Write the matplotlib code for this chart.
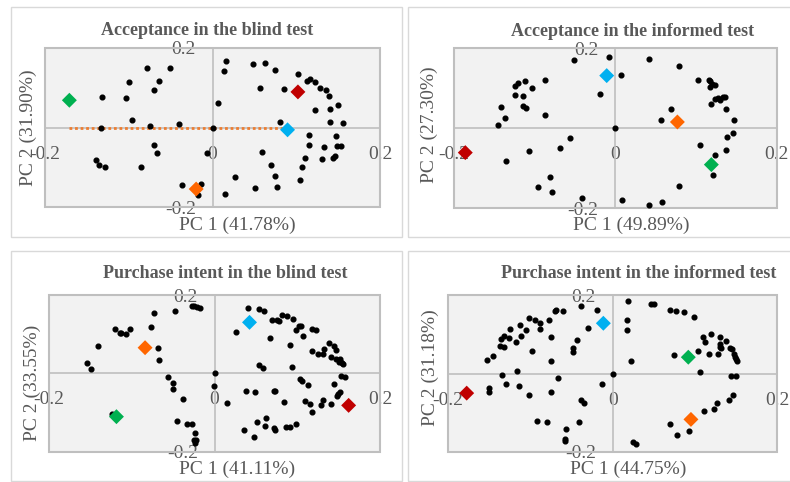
import matplotlib
matplotlib.use("Agg")
import matplotlib.pyplot as plt
from matplotlib.patches import Rectangle

plt.rcParams["font.family"] = ["Liberation Serif", "DejaVu Serif"]

TEXT = "#595959"
GRID = "#bfbfbf"

# sample scores: diamonds in the order green, red, blue, orange
sample_colors = ["#00b050", "#c00000", "#00b0f0", "#ff6600"]

# --- Acceptance, blind test
acc_blind_x = [0.0167, 0.0143, 0.0478, 0.0625, 0.0745, 0.102, 0.1127, 0.1159, 0.1223, 0.1283,
               0.1355, 0.1386, 0.0562, 0.0853, 0.0064, 0.1502, 0.1227, 0.1406, 0.0801, 0.1398,
               0.1558, 0.0, 0.1147, 0.1478, 0.1147, 0.1335, 0.1486, 0.153, 0.0594, 0.1462,
               0.1438, 0.1311, 0.11, 0.0693, 0.1068, 0.0267, 0.0749, 0.1048, 0.0502, 0.0773,
               0.0151, -0.0777, -0.0502, -0.0633, -0.0992, -0.0697, -0.1315, -0.1028, -0.0956,
               -0.0749, -0.0402, -0.1327, -0.0701, -0.0665, -0.139, -0.1355, -0.1283, -0.0853,
               -0.0367, -0.0143, -0.0171, -0.0068]
acc_blind_y = [0.1675, 0.1417, 0.16, 0.1625, 0.1442, 0.1333, 0.1175, 0.1225, 0.1142, 0.0983,
               0.0933, 0.08, 0.0992, 0.0975, 0.0625, 0.0558, 0.045, 0.0467, 0.0133, 0.0133,
               0.0108, 0.0, -0.0192, -0.0217, -0.0442, -0.05, -0.0467, -0.0467, -0.0617, -0.0717,
               -0.0758, -0.0783, -0.0767, -0.0942, -0.1, -0.125, -0.1217, -0.1308, -0.1508, -0.15,
               -0.1658, 0.1483, 0.15, 0.1167, 0.1142, 0.0933, 0.0775, 0.075, 0.0183,
               0.005, 0.0092, -0.0017, -0.045, -0.0633, -0.0817, -0.0942, -0.1, -0.0983,
               -0.1442, -0.1425, -0.1692, -0.0633]
acc_blind_sx = [-0.1709, 0.102, 0.0896, -0.0195]
acc_blind_sy = [0.0683, 0.0892, -0.0058, -0.1542]

# --- Acceptance, informed test
acc_inf_x = [-0.0512, -0.0083, 0.0421, 0.0785, 0.007, -0.0872, -0.1124, -0.1207, -0.1248, -0.1029,
             -0.1248, -0.1149, -0.1421, -0.1149, -0.1112, -0.0868, -0.1364, -0.1459, -0.019, 0.1029,
             0.1157, 0.1174, 0.1198, 0.1169, 0.124, 0.124, 0.1273, 0.1302, 0.1335, 0.1364,
             0.1182, 0.1376, 0.0686, 0.0566, 0.1471, 0.0, -0.0562, -0.069, -0.1066, -0.136,
             0.138, 0.1463, 0.1045, 0.1376, 0.1236, 0.1207, 0.0793, -0.0806, -0.0963, -0.0781,
             -0.0417, 0.0083, 0.0413, 0.0583]
acc_inf_y = [0.1708, 0.1775, 0.1725, 0.1558, 0.1325, 0.1208, 0.1192, 0.1142, 0.105, 0.1,
             0.0842, 0.0808, 0.0525, 0.0567, 0.05, 0.0333, 0.025, 0.0092, 0.0858, 0.1217,
             0.12, 0.1183, 0.1108, 0.1033, 0.1083, 0.0742, 0.0758, 0.0708, 0.0775, 0.0783,
             0.0617, 0.0492, 0.0475, 0.0217, 0.02, 0.0, -0.0233, -0.0492, -0.0567, -0.0808,
             -0.0217, -0.0117, -0.0408, -0.0533, -0.0667, -0.1158, -0.145, -0.1225, -0.1475, -0.1592,
             -0.175, -0.1792, -0.1908, -0.1842]
acc_inf_sx = [0.119, -0.186, -0.0107, 0.0769]
acc_inf_sy = [-0.0908, -0.0608, 0.1317, 0.0158]

# --- Purchase intent, blind test
pur_blind_x = [-0.0274, -0.0246, -0.0206, -0.0173, -0.0472, -0.0734, -0.077, -0.1198, -0.1145, -0.1125,
               -0.1069, -0.102, -0.1407, -0.0681, -0.0673, -0.1544, -0.1492, -0.056, -0.0496, -0.0504,
               -0.0379, 0.0, -0.0004, 0.0149, -0.1238, -0.0448, -0.0335, -0.0274, -0.023, -0.0246,
               -0.0226, -0.023,
               0.0407, 0.0532, 0.0597, 0.0698, 0.0754, 0.0778, 0.0815, 0.0879, 0.0948, 0.0262,
               0.0665, 0.0984, 0.102, 0.104, 0.1065, 0.1177, 0.1226, 0.0907, 0.1181, 0.1254,
               0.1315, 0.1323, 0.1387, 0.144, 0.1468, 0.1403, 0.1468, 0.1512, 0.152, 0.1544,
               0.1504, 0.1556, 0.0532, 0.0589, 0.0935, 0.1028, 0.1052, 0.1129, 0.1444, 0.1528,
               0.1573, 0.1512, 0.1488, 0.148, 0.0375, 0.0484, 0.0714, 0.073, 0.0835, 0.1089,
               0.1153, 0.1181, 0.1282, 0.131, 0.1407, 0.0351, 0.0508, 0.0617, 0.0605, 0.0722,
               0.073, 0.0859, 0.0915, 0.098, 0.0476]
pur_blind_y = [0.1711, 0.1719, 0.1685, 0.1677, 0.16, 0.1532, 0.1183, 0.1132, 0.103, 0.1021,
               0.1004, 0.1132, 0.0698, 0.0655, 0.0349, 0.0264, 0.0102, -0.0094, -0.0247, -0.04,
               -0.0647, 0.0, -0.0332, -0.0757, -0.1038, -0.1209, -0.1285, -0.1285, -0.1515, -0.1694,
               -0.1702, -0.1779,
               0.1668, 0.1643, 0.16, 0.1362, 0.1353, 0.1328, 0.1489, 0.1455, 0.1379, 0.1064,
               0.0902, 0.1115, 0.12, 0.1217, 0.0962, 0.1132, 0.1098, 0.0732, 0.0562, 0.0485,
               0.0485, 0.0621, 0.0766, 0.0689, 0.0596, 0.0417, 0.0366, 0.0374, 0.0315, 0.0264,
               0.0281, 0.0247, 0.0213, 0.0128, 0.0162, -0.0145, -0.0204, -0.0306, -0.0264, -0.0077,
               -0.0094, -0.0485, -0.0528, -0.0587, -0.046, -0.0485, -0.0443, -0.0451, -0.0723, -0.0706,
               -0.0791, -0.0996, -0.0817, -0.0681, -0.0783, -0.1455, -0.1243, -0.1149, -0.1336, -0.1396,
               -0.1455, -0.1379, -0.137, -0.1302, -0.1626]
pur_blind_sx = [-0.1185, 0.1621, 0.0423, -0.0839]
pur_blind_sy = [-0.1106, -0.0817, 0.1302, 0.0655]

# --- Purchase intent, informed test
pur_inf_x = [-0.0704, -0.0688, -0.0599, -0.0381, -0.019, -0.0777, -0.1012, -0.0947, -0.0883, -0.0883,
             -0.1121, -0.1049, -0.1243, -0.1316, -0.136, -0.1259, -0.1117, -0.1178, -0.1364, -0.1324,
             -0.098, -0.0745, -0.0482, -0.0478, -0.0433, -0.0296, -0.1526, -0.1457, -0.0753, -0.1348,
             -0.1166, -0.0664, -0.1502, -0.1502, -0.13, -0.1138, -0.102, -0.0753, -0.013, -0.0389,
             -0.0348, -0.0923, -0.0798, -0.0571, -0.0405, -0.0583, -0.0575,
             0.0182, 0.0462, 0.0498, 0.0692, 0.0769, 0.0862, 0.0988, 0.017, 0.0178, 0.0223,
             0.0, 0.0745, 0.1032, 0.117, 0.1283, 0.1101, 0.1121, 0.1194, 0.1304, 0.1308,
             0.1308, 0.1316, 0.1372, 0.1425, 0.1445, 0.147, 0.1486, 0.1494, 0.1514, 0.1437,
             0.1494, 0.1061, 0.1457, 0.1409, 0.1267, 0.1231, 0.1113, 0.0692, 0.0777, 0.0923,
             0.0251, 0.0279]
pur_inf_y = [0.1609, 0.1634, 0.16, 0.1719, 0.1617, 0.137, 0.143, 0.1362, 0.1285, 0.1149,
             0.1243, 0.1106, 0.1132, 0.097, 0.0877, 0.0919, 0.0962, 0.08, 0.0715, 0.0689,
             0.0587, 0.0936, 0.0647, 0.0545, 0.0868, 0.1157, 0.0357, 0.046, 0.0315, -0.0026,
             0.006, -0.0111, -0.0374, -0.0468, -0.0264, -0.0315, -0.0545, -0.0468, -0.0264, -0.0672,
             -0.0757, -0.1217, -0.1251, -0.1413, -0.1243, -0.1685, -0.1719,
             0.1855, 0.177, 0.177, 0.1617, 0.1609, 0.1574, 0.1447, 0.1362, 0.1106, 0.0315,
             0.0, 0.0477, 0.0579, 0.0502, 0.0502, 0.0936, 0.0809, 0.1021, 0.0945, 0.0766,
             0.0672, 0.0647, 0.0843, 0.0664, 0.063, 0.0502, 0.0434, 0.0374, 0.0323, -0.0068,
             -0.0068, 0.0026, -0.0553, -0.0681, -0.0766, -0.0902, -0.0953, -0.1285, -0.1583, -0.1481,
             -0.1753, -0.1813]
pur_inf_sx = [0.0919, -0.1773, -0.0113, 0.0951]
pur_inf_sy = [0.0417, -0.0502, 0.1285, -0.1174]

W, H = 790, 482

panels = [
    # title, x label, y label, plot box (px), title pos, xlabel pos, ylabel pos
    dict(title="Acceptance in the blind test", xlab="PC 1 (41.78%)", ylab="PC 2 (31.90%)",
         box=(45, 47.7, 380, 207.3), x=acc_blind_x, y=acc_blind_y,
         sx=acc_blind_sx, sy=acc_blind_sy, tpos=(207, 30.7), xpos=(237.7, 225.7), ypos=(28, 128)),
    dict(title="Acceptance in the informed test", xlab="PC 1 (49.89%)", ylab="PC 2 (27.30%)",
         box=(454, 48.3, 776.7, 208.3), x=acc_inf_x, y=acc_inf_y,
         sx=acc_inf_sx, sy=acc_inf_sy, tpos=(633, 31), xpos=(631, 225.7), ypos=(429, 125)),
    dict(title="Purchase intent in the blind test", xlab="PC 1 (41.11%)", ylab="PC 2 (33.55%)",
         box=(49, 295, 380, 451.7), x=pur_blind_x, y=pur_blind_y,
         sx=pur_blind_sx, sy=pur_blind_sy, tpos=(225.7, 274), xpos=(237, 469), ypos=(32.7, 383)),
    dict(title="Purchase intent in the informed test", xlab="PC 1 (44.75%)", ylab="PC 2 (31.18%)",
         box=(448, 295.3, 777.3, 451.7), x=pur_inf_x, y=pur_inf_y,
         sx=pur_inf_sx, sy=pur_inf_sy, tpos=(639, 274), xpos=(628, 469.3), ypos=(430, 368)),
]

frames = [(11, 7, 402, 237), (408, 7, 800, 237), (11, 251, 402, 481), (408, 251, 800, 481)]

fig = plt.figure(figsize=(W / 100, H / 100), dpi=100)
fig.patch.set_facecolor("white")

for (x0, y0, x1, y1) in frames:
    fig.patches.append(Rectangle((x0 / W, 1 - y1 / H), (x1 - x0) / W, (y1 - y0) / H,
                                 transform=fig.transFigure, fill=False,
                                 edgecolor="#d9d9d9", linewidth=1.0))


def px(p):
    return p[0] / W, 1 - p[1] / H


for i, p in enumerate(panels):
    x0, y0, x1, y1 = p["box"]
    ax = fig.add_axes([x0 / W, 1 - y1 / H, (x1 - x0) / W, (y1 - y0) / H])
    ax.set_facecolor("#f2f2f2")
    ax.set_xlim(-0.2, 0.2)
    ax.set_ylim(-0.2, 0.2)

    # axes cross at the origin, plot area keeps its own border
    for side in ["top", "right"]:
        ax.spines[side].set_visible(False)
    ax.spines["left"].set_position("zero")
    ax.spines["bottom"].set_position("zero")
    for side in ["left", "bottom"]:
        ax.spines[side].set_color(GRID)
        ax.spines[side].set_linewidth(1.2)
    ax.add_patch(Rectangle((0, 0), 1, 1, transform=ax.transAxes, fill=False,
                           edgecolor=GRID, linewidth=1.5, clip_on=False, zorder=3))

    ax.set_xticks([-0.2, 0, 0.2])
    ax.set_xticklabels(["-0.2", "0", "0.2"])
    ax.set_yticks([-0.2, 0.2])
    ax.set_yticklabels(["-0.2", "0.2"])
    ax.tick_params(axis="both", length=0, labelsize=14, labelcolor=TEXT)
    ax.tick_params(axis="x", pad=13)
    ax.tick_params(axis="y", pad=12)

    if i == 0:
        ax.plot([p["sx"][0], p["sx"][2]], [0, 0], linestyle=(0, (1, 1)), color="#ed7d31",
                linewidth=2, zorder=4)

    ax.plot(p["x"], p["y"], "o", color="black", markersize=3.4, zorder=5, clip_on=False)
    ax.scatter(p["sx"], p["sy"], marker="D", s=58, c=sample_colors, zorder=6,
               linewidths=0, clip_on=False)

    fig.text(*px(p["tpos"]), p["title"], ha="center", va="center", fontsize=13,
             fontweight="bold", color=TEXT)
    fig.text(*px(p["xpos"]), p["xlab"], ha="center", va="center", fontsize=14, color=TEXT)
    fig.text(*px(p["ypos"]), p["ylab"], ha="center", va="center", fontsize=14, color=TEXT,
             rotation=90)

fig.savefig("out.png", dpi=100)
